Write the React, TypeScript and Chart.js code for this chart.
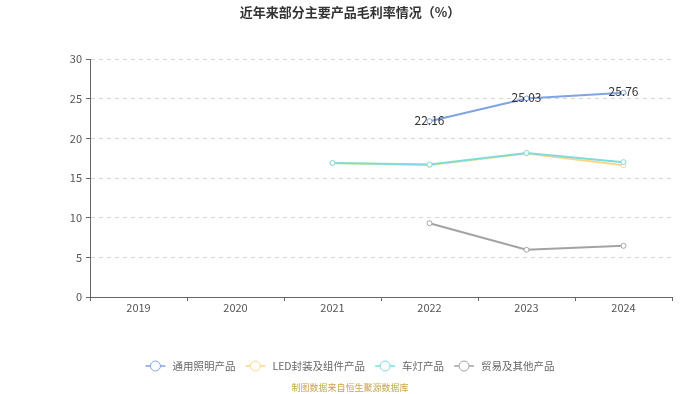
import React, { useEffect, useRef } from "react";
import { Chart, registerables } from "chart.js";

Chart.register(...registerables);

const title = "近年来部分主要产品毛利率情况（%）";
const footer = "制图数据来自恒生聚源数据库";
const years = ["2019", "2020", "2021", "2022", "2023", "2024"];
const seriesNames = ["通用照明产品", "LED封装及组件产品", "车灯产品", "贸易及其他产品"];
const generalLighting = [null, null, null, 22.16, 25.03, 25.76];
const ledPackage = [null, null, 16.9, 16.65, 18.1, 16.6];
const carLamp = [null, null, 16.9, 16.7, 18.15, 17.0];
const tradeOther = [null, null, null, 9.3, 5.95, 6.45];
const seriesColors = ["#7fa3e3", "#fcd688", "#7fdcdc", "#a3a3a3"];
const yTicks = [0, 5, 10, 15, 20, 25, 30];

const FONT = "'Noto Sans CJK SC', 'Noto Sans', sans-serif";

const overlayPlugin = {
  id: "overlay",
  afterDatasetsDraw(chart: any) {
    const ctx = chart.ctx;
    ctx.save();
    const meta = chart.getDatasetMeta(0);
    ctx.font = `12px ${FONT}`;
    ctx.fillStyle = "#333";
    ctx.textAlign = "center";
    ctx.textBaseline = "middle";
    meta.data.forEach((pt: any, i: number) => {
      const v = generalLighting[i];
      if (v == null) return;
      ctx.fillText(v.toFixed(2), pt.x, pt.y - 1);
    });
    ctx.restore();
  },
  afterDraw(chart: any) {
    const ctx = chart.ctx;
    const w = chart.width;
    ctx.save();
    ctx.font = `bold 13px ${FONT}`;
    ctx.fillStyle = "#333";
    ctx.textAlign = "center";
    ctx.textBaseline = "middle";
    ctx.fillText(title, w / 2, 12);

    ctx.font = `10.5px ${FONT}`;
    const items = seriesNames.map((n, i) => ({ n, c: seriesColors[i], tw: ctx.measureText(n).width }));
    const markerW = 20;
    const gapAfterMarker = 7;
    const gapBetween = 10;
    const total = items.reduce((s, it) => s + markerW + gapAfterMarker + it.tw, 0) + gapBetween * (items.length - 1);
    let x = w / 2 - total / 2;
    const ly = 366;
    items.forEach((it) => {
      ctx.strokeStyle = it.c;
      ctx.lineWidth = 1.5;
      ctx.beginPath();
      ctx.moveTo(x, ly);
      ctx.lineTo(x + markerW, ly);
      ctx.stroke();
      ctx.beginPath();
      ctx.arc(x + markerW / 2, ly, 5, 0, Math.PI * 2);
      ctx.fillStyle = "#fff";
      ctx.fill();
      ctx.lineWidth = 1;
      ctx.stroke();
      ctx.fillStyle = "#666";
      ctx.textAlign = "left";
      ctx.textBaseline = "middle";
      ctx.fillText(it.n, x + markerW + gapAfterMarker, ly);
      x += markerW + gapAfterMarker + it.tw + gapBetween;
    });

    ctx.font = `9px ${FONT}`;
    ctx.fillStyle = "#c9a44c";
    ctx.textAlign = "center";
    ctx.fillText(footer, w / 2, 388);
    ctx.restore();
  },
};

function makeDataset(label: string, data: (number | null)[], color: string) {
  return {
    label,
    data,
    borderColor: color,
    backgroundColor: "#fff",
    borderWidth: 2,
    pointRadius: 2.5,
    pointBorderWidth: 1,
    pointBackgroundColor: "#fff",
    pointBorderColor: color,
    tension: 0,
    spanGaps: false,
  };
}

export default function App() {
  const ref = useRef<HTMLCanvasElement>(null);
  useEffect(() => {
    document.body.style.margin = "0";
    const chart = new Chart(ref.current!, {
      type: "line",
      data: {
        labels: years,
        datasets: [
          makeDataset(seriesNames[0], generalLighting, seriesColors[0]),
          makeDataset(seriesNames[2], carLamp, seriesColors[2]),
          makeDataset(seriesNames[1], ledPackage, seriesColors[1]),
          makeDataset(seriesNames[3], tradeOther, seriesColors[3]),
        ] as any,
      },
      options: {
        responsive: false,
        animation: false,
        layout: { padding: { top: 59, left: 0, right: 28, bottom: 0 } },
        plugins: {
          legend: { display: false },
          title: { display: false },
          tooltip: { enabled: false },
        },
        scales: {
          x: {
            offset: true,
            grid: {
              display: true,
              offset: true,
              drawOnChartArea: false,
              drawTicks: true,
              tickLength: 4,
              color: "#666",
            },
            border: { display: true, color: "#666", width: 1 },
            ticks: { color: "#555", font: { size: 11, family: FONT }, padding: 0 },
            afterFit: (s: any) => {
              s.height = 97;
            },
          },
          y: {
            min: 0,
            max: 30,
            afterBuildTicks: (s: any) => {
              s.ticks = yTicks.map((v) => ({ value: v }));
            },
            grid: {
              color: "#d6d6d6",
              tickColor: "#666",
              tickLength: 4,
              drawTicks: true,
            },
            border: { display: true, color: "#666", width: 1, dash: [4, 4] },
            ticks: { color: "#555", font: { size: 11, family: FONT }, padding: 4 },
            afterFit: (s: any) => {
              s.width = 90;
            },
          },
        },
      },
      plugins: [overlayPlugin],
    });
    return () => chart.destroy();
  }, []);
  return <canvas ref={ref} width={700} height={394} style={{ display: "block" }} />;
}
